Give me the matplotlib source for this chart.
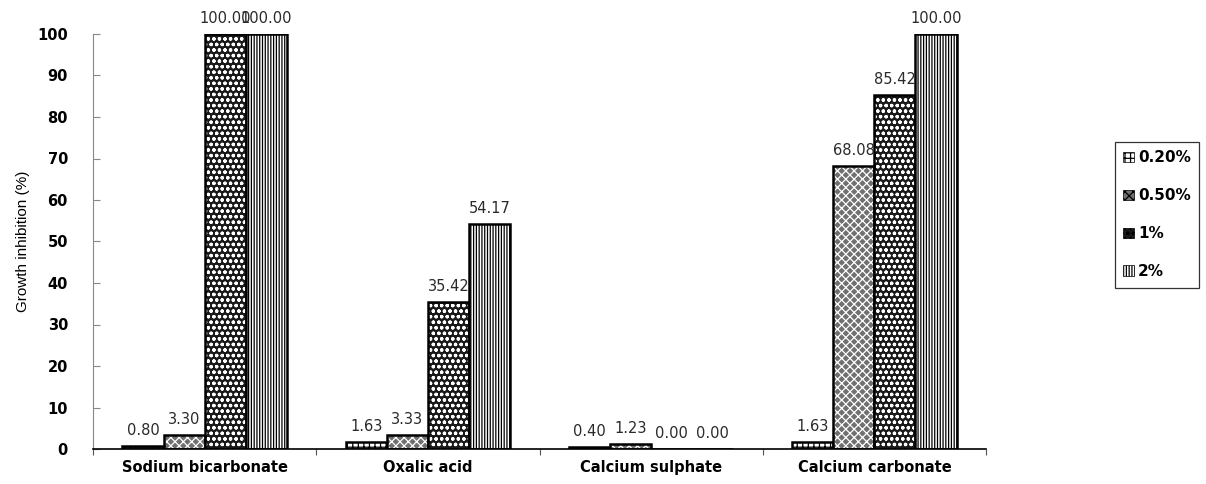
import numpy as np
import matplotlib
matplotlib.use('Agg')
import matplotlib.pyplot as plt
from matplotlib.patches import Patch

plt.rcParams['font.family'] = ['DejaVu Sans']
plt.rcParams['hatch.linewidth'] = 0.9

# Inhibition data (%)
treatments = ['Sodium bicarbonate', 'Oxalic acid', 'Calcium sulphate', 'Calcium carbonate']
concentrations = ['0.20%', '0.50%', '1%', '2%']
inh_020 = [0.80, 1.63, 0.40, 1.63]
inh_050 = [3.30, 3.33, 1.23, 68.08]
inh_1 = [100.00, 35.42, 0.00, 85.42]
inh_2 = [100.00, 54.17, 0.00, 100.00]
yticks = [0, 10, 20, 30, 40, 50, 60, 70, 80, 90, 100]

series = [inh_020, inh_050, inh_1, inh_2]
# (face colour, hatch colour, hatch pattern)
styles = [('white', 'black', '+++'),
          ('#707070', 'white', 'xxxx'),
          ('#1a1a1a', 'white', 'ooo'),
          ('white', 'black', '||||||')]

fig = plt.figure(figsize=(12.06, 4.84), dpi=100)
ax = fig.add_axes([93 / 1206, 1 - 449 / 484, (986 - 93) / 1206, (449 - 34) / 484])

x = np.arange(len(treatments)) + 0.5
w = 0.184
for i, vals in enumerate(series):
    fc, hc, hatch = styles[i]
    pos = x + (i - 1.5) * w
    ax.bar(pos, vals, w, color=fc, edgecolor=hc, hatch=hatch, linewidth=0)
    ax.bar(pos, vals, w, fill=False, edgecolor='black', linewidth=1.8)
    for px, v in zip(pos, vals):
        ax.annotate(f'{v:.2f}', (px, v), xytext=(0, 11), textcoords='offset pixels',
                    ha='center', va='baseline', fontsize=10.5, color='#2a2a2a')

ax.set_xlim(0, len(treatments))
ax.set_ylim(0, 100)
ax.set_yticks(yticks)
ax.set_yticklabels([str(t) for t in yticks], fontsize=10.5, fontweight='bold')
ax.set_xticks(np.arange(len(treatments) + 1))
ax.set_xticklabels([])
ax.set_xticks(x, minor=True)
ax.set_xticklabels(treatments, minor=True, fontsize=10.5, fontweight='bold')
ax.tick_params(axis='x', which='minor', length=0, pad=8)
ax.tick_params(axis='x', which='major', length=4, direction='out', color='#555555')
ax.tick_params(axis='y', length=5, direction='in', color='#888888', pad=18)

for s in ['top', 'right']:
    ax.spines[s].set_visible(False)
ax.spines['left'].set_color('#888888')
ax.spines['bottom'].set_color('black')
ax.spines['bottom'].set_linewidth(1.2)

ax.set_ylabel('Growth inhibition (%)', fontsize=11,
              family=['Liberation Sans Narrow', 'Liberation Sans'])
ax.yaxis.set_label_coords(-63 / 893, 0.5)

handles = [Patch(facecolor=fc, edgecolor=hc, hatch=h) for fc, hc, h in styles]
leg = fig.legend(handles, concentrations, loc='upper left',
                 bbox_to_anchor=(1115 / 1206, 1 - 142 / 484),
                 prop={'weight': 'bold', 'size': 11},
                 handlelength=0.7, handleheight=0.7, handletextpad=0.25,
                 labelspacing=1.5, borderpad=0.55, borderaxespad=0,
                 fancybox=False, frameon=True, edgecolor='black')
leg.get_frame().set_linewidth(0.9)
for p in leg.get_patches():
    p.set_linewidth(0.5)
    p.set_edgecolor('black')

fig.savefig('out.png', dpi=100)
